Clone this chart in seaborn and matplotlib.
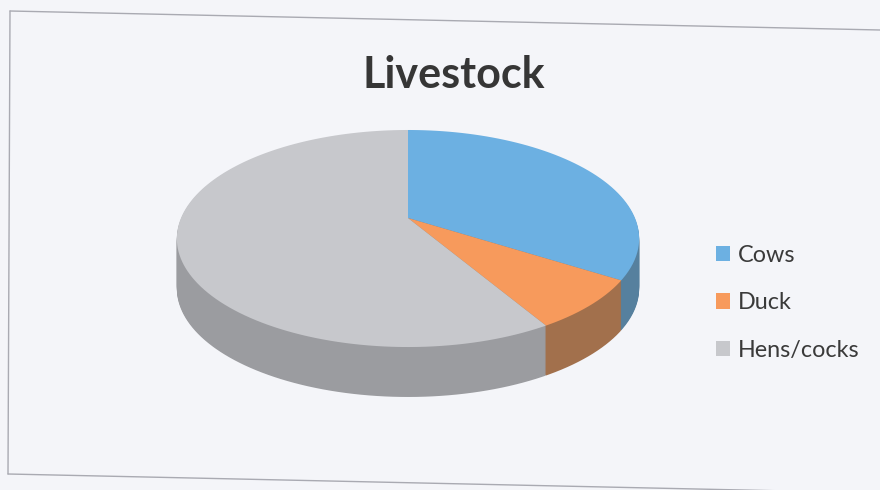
import numpy as np
import matplotlib
matplotlib.use("Agg")
import matplotlib.pyplot as plt
import matplotlib.transforms as mtransforms
from matplotlib.path import Path
from matplotlib.lines import Line2D
import seaborn as sns

# ---- data ----
categories = ["Cows", "Duck", "Hens/cocks"]
values = [34, 7.5, 58.5]
title = "Livestock"

top_colors = ["#6cb0e2", "#f79a5c", "#c7c8cc"]
side_colors = ["#56809e", "#a2704c", "#9b9ca0"]

sns.set_theme(style="white")
plt.rcParams["font.family"] = ["Lato", "DejaVu Sans"]


class Perspective(mtransforms.Transform):
    """Tilt the pie plane away from the viewer (simple projective mapping)."""
    input_dims = 2
    output_dims = 2
    is_separable = False
    has_inverse = False

    def __init__(self, k, a, drop):
        super().__init__()
        self.k, self.a, self.drop = k, a, drop

    def transform_non_affine(self, values):
        v = np.asarray(values, float).reshape(-1, 2)
        x, y = v[:, 0], v[:, 1]
        w = 1.0 + self.k * y
        return np.column_stack([x / w, self.a * y / w - self.drop])

    def transform_path_non_affine(self, path):
        s = 1000.0
        polys = path.to_polygons(transform=mtransforms.Affine2D().scale(s),
                                 closed_only=False)
        paths = [Path(self.transform_non_affine(np.asarray(p) / s), closed=True)
                 for p in polys if len(p) > 2]
        return Path.make_compound_path(*paths)


W, H = 880, 490
fig = plt.figure(figsize=(W / 100, H / 100), dpi=100, facecolor="#f4f5f9")
ax = fig.add_axes([0, 0, 1, 1])
ax.set_facecolor("none")

k, a = 0.189, 0.461
depth = 0.22
n_layers = 50

# side of the cylinder, drawn as stacked layers from the bottom up
for i in range(n_layers, 0, -1):
    d = depth * i / n_layers
    wedges, _ = ax.pie(values, startangle=90, counterclock=False,
                       colors=side_colors,
                       wedgeprops=dict(linewidth=0, antialiased=True))
    for wdg in wedges:
        wdg.set_transform(Perspective(k, a, d) + ax.transData)

# top face
top_wedges, _ = ax.pie(values, startangle=90, counterclock=False,
                       colors=top_colors,
                       wedgeprops=dict(linewidth=0, antialiased=True))
for wdg in top_wedges:
    wdg.set_transform(Perspective(k, a, 0.0) + ax.transData)

# pie centre at (408, 218) px, radius unit = 227 px
cx, cy, unit = 408, 218, 227
ax.set_xlim(-cx / unit, (W - cx) / unit)
ax.set_ylim(-(H - cy) / unit, cy / unit)
ax.set_aspect("equal")
ax.axis("off")

fig.text(454 / W, 1 - 75 / H, title, ha="center", va="center",
         fontsize=31, fontweight="bold", color="#363636")

ax.legend(top_wedges, categories, loc="upper left",
          bbox_to_anchor=(704 / W, 1 - 233 / H), bbox_transform=fig.transFigure,
          frameon=False, fontsize=16.8, handlelength=0.62, handleheight=0.62,
          handletextpad=0.35, labelspacing=1.14, borderpad=0,
          labelcolor="#3a3a3a")

# border of the chart area (photo slightly tilted)
def px(xp, yp):
    return xp / W, 1 - yp / H

for (x0, y0), (x1, y1) in [((10, 11), (880, 30)),
                           ((10, 11), (8, 474)),
                           ((8, 474), (880, 493))]:
    (fx0, fy0), (fx1, fy1) = px(x0, y0), px(x1, y1)
    fig.add_artist(Line2D([fx0, fx1], [fy0, fy1], transform=fig.transFigure,
                          color="#a9aab2", linewidth=1.0))

fig.savefig("out.png", dpi=100, facecolor=fig.get_facecolor())
